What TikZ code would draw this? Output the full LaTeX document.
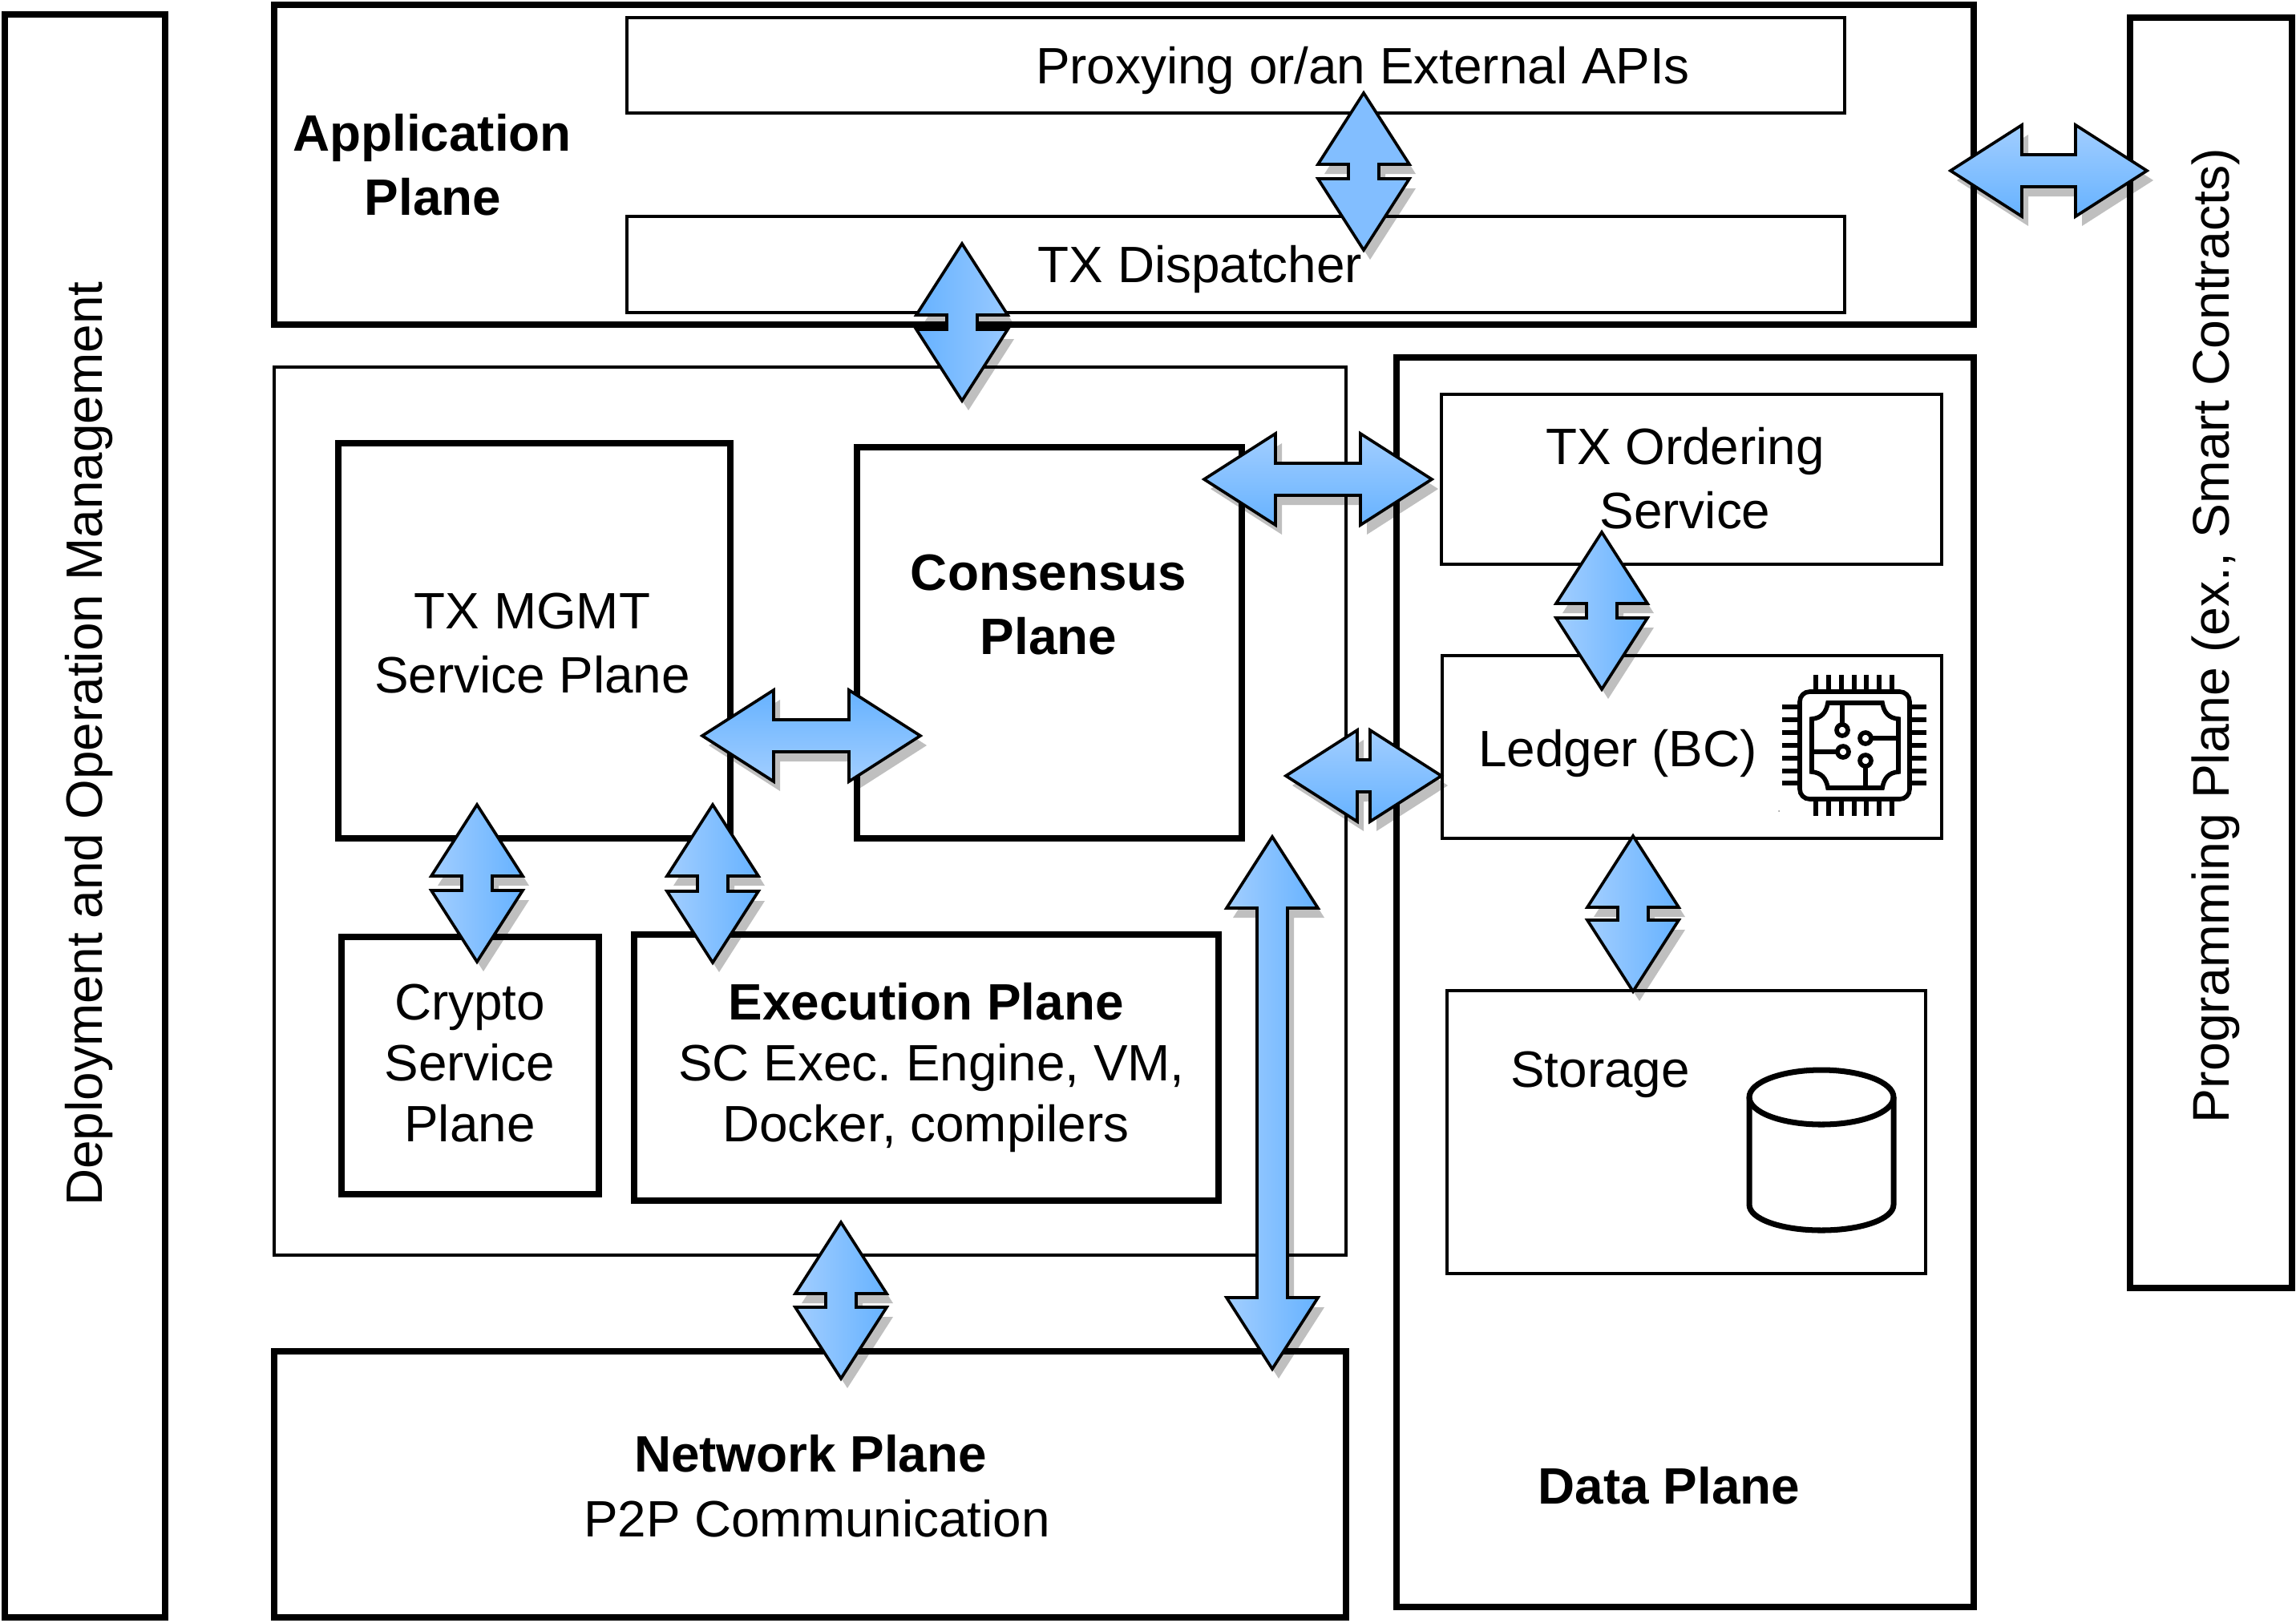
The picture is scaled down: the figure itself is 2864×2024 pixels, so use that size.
\documentclass[tikz,border=0pt]{standalone}
\usepackage{fontspec}
\setmainfont{Liberation Sans}
\frenchspacing
\definecolor{blLight}{HTML}{A2CEFF}
\definecolor{blMid}{HTML}{82BEFF}
\definecolor{blDark}{HTML}{66B2FF}
\tikzset{
  thinbox/.style={draw=black,line width=1pt,inner sep=0pt,outer sep=0pt,fill=white},
  thickbox/.style={draw=black,line width=2.15pt,inner sep=0pt,outer sep=0pt,fill=white},
  lab/.style={anchor=base,inner sep=0pt,outer sep=0pt,font=\fontsize{18.15}{22}\selectfont},
  blab/.style={lab,font=\fontsize{18.15}{22}\selectfont\bfseries},
  vlab/.style={lab,rotate=90,font=\fontsize{18.3}{22}\selectfont},
  arrowline/.style={draw=black,line width=1.05pt,line join=miter,miter limit=10},
  arrowshadow/.style={fill=black,opacity=.25},
  chipline/.style={draw=black,line width=1.6pt},
  cyl/.style={draw=black,line width=2pt}
}
% box: style, name, x1, y1, x2, y2 (reference pixels)
\newcommand{\planebox}[6]{%
  \node[#1,minimum width={(#5-#3)*0.01cm},minimum height={(#6-#4)*0.01cm}] (#2) at ({(#3+#5)/2},{(#4+#6)/2}) {};}
% horizontal block arrow: name, x left, x right, y, top colour, bottom colour
\newcommand{\blockH}[6]{%
  \coordinate (#1-a) at (#2,#4);\coordinate (#1-b) at (#3,#4);
  \def\blockpath{(#2,#4) -- (#2+89,#4-57) -- (#2+89,#4-20) -- (#3-89,#4-20) -- (#3-89,#4-57) -- (#3,#4) -- (#3-89,#4+57) -- (#3-89,#4+20) -- (#2+89,#4+20) -- (#2+89,#4+57) -- cycle}
  \path[arrowshadow,shift={(8,12)}] \blockpath;
  \path[arrowline,top color=#5,bottom color=#6] \blockpath;}
% vertical block arrow: name, x, y top, y bottom, left colour, right colour
\newcommand{\blockV}[6]{%
  \coordinate (#1-a) at (#2,#3);\coordinate (#1-b) at (#2,#4);
  \def\blockpath{(#2,#3) -- (#2+57,#3+89) -- (#2+19,#3+89) -- (#2+19,#4-89) -- (#2+57,#4-89) -- (#2,#4) -- (#2-57,#4-89) -- (#2-19,#4-89) -- (#2-19,#3+89) -- (#2-57,#3+89) -- cycle}
  \path[arrowshadow,shift={(8,12)}] \blockpath;
  \path[arrowline,left color=#5,right color=#6] \blockpath;}
\begin{document}
\begin{tikzpicture}[x=0.01cm,y=-0.01cm]
\path[use as bounding box,fill=white] (0,0) rectangle (2864,2024);
% planes
\planebox{thickbox}{deploy}{6}{18}{206}{2018}
\planebox{thickbox}{app}{342}{6}{2462}{405}
\planebox{thinbox}{proxy}{782}{22}{2301}{141}
\planebox{thinbox}{disp}{782}{270}{2301}{390}
\planebox{thickbox}{prog}{2657}{22}{2859}{1607}
\planebox{thinbox}{core}{342}{458}{1679}{1566}
\planebox{thickbox}{data}{1742}{446}{2462}{2005}
\planebox{thinbox}{order}{1798}{492}{2422}{704}
\planebox{thinbox}{ledger}{1799}{818}{2422}{1046}
\planebox{thinbox}{storage}{1805}{1236}{2402}{1589}
\planebox{thickbox}{mgmt}{422}{553}{911}{1046}
\planebox{thickbox}{consensus}{1069}{558}{1549}{1046}
\planebox{thickbox}{crypto}{426}{1169}{747}{1490}
\planebox{thickbox}{exec}{791}{1166}{1520}{1498}
\planebox{thickbox}{network}{342}{1686}{1679}{2018}
% labels
\node[vlab,font=\fontsize{18.15}{22}\selectfont] (tdeploy) at (127,928) {Deployment and Operation Management};
\node[vlab] (tprog) at (2780,793) {Programming Plane (ex., Smart Contracts)};
\node[lab] (tproxy) at (1700,104) {Proxying or/an External APIs};
\node[lab] (tdisp) at (1497,352) {TX Dispatcher};
\node[blab] (tapp1) at (539,188) {Application};
\node[blab] (tapp2) at (540,268) {Plane};
\node[lab] (tmgmt1) at (664,784) {TX MGMT};
\node[lab] (tmgmt2) at (664,864) {Service Plane};
\node[blab] (tcons1) at (1308,736) {Consensus};
\node[blab] (tcons2) at (1308,816) {Plane};
\node[lab] (tcry1) at (586,1272) {Crypto};
\node[lab] (tcry2) at (586,1348) {Service};
\node[lab] (tcry3) at (586,1424) {Plane};
\node[blab] (texe1) at (1155,1272) {Execution Plane};
\node[lab] (texe2) at (1162,1348) {SC Exec. Engine, VM,};
\node[lab] (texe3) at (1155,1424) {Docker, compilers};
\node[blab] (tnet1) at (1011,1836) {Network Plane};
\node[lab] (tnet2) at (1019,1917) {P2P Communication};
\node[blab] (tdata) at (2082,1876) {Data Plane};
\node[lab] (tord1) at (2102,579) {TX Ordering};
\node[lab] (tord2) at (2102,659) {Service};
\node[lab] (tled) at (2018,956) {Ledger (BC)};
\node[lab] (tsto) at (1996,1356) {Storage};
% chip icon
\draw[chipline,rounded corners=3.5pt] (2245,863) rectangle (2382,997);
\foreach \p in {2265,2281,2297,2313,2328,2344,2360}{
  \draw[chipline] (\p,842) -- (\p,863);
  \draw[chipline] (\p,997) -- (\p,1018);}
\foreach \p in {882,898,914,930,946,962,977}{
  \draw[chipline] (2223,\p) -- (2245,\p);
  \draw[chipline] (2382,\p) -- (2403,\p);}
\draw[chipline] (2280,877) -- (2348,877) .. controls (2350,889) and (2356,896) .. (2368,897)
  -- (2368,963) .. controls (2356,964) and (2350,971) .. (2348,983)
  -- (2280,983) .. controls (2278,971) and (2272,964) .. (2260,963)
  -- (2260,897) .. controls (2272,896) and (2278,889) .. (2280,877) -- cycle;
\draw[chipline] (2298,877) -- (2298,904);
\draw[chipline] (2298,911) circle[radius=7];
\draw[chipline] (2368,921) -- (2334,921);
\draw[chipline] (2327,921) circle[radius=7];
\draw[chipline] (2260,938) -- (2292,938);
\draw[chipline] (2299,938) circle[radius=7];
\draw[chipline] (2327,983) -- (2327,956);
\draw[chipline] (2327,949) circle[radius=7];
\fill[black!45] (2219,1012) circle[radius=1];
% database cylinder
\draw[cyl] (2182,1369) -- (2182,1503) .. controls (2182,1521) and (2222,1535) .. (2272,1535)
  .. controls (2322,1535) and (2362,1521) .. (2362,1503) -- (2362,1369);
\draw[cyl] (2272,1369) ellipse[x radius=90,y radius=34];
% block arrows
\blockV{proxydisp}{1701}{116}{312}{blMid}{blMid}
\blockV{dispcore}{1200}{304}{500}{blDark}{blLight!70!blMid}
\blockH{appprog}{2433}{2678}{213}{blLight}{blDark}
\blockH{consorder}{1502}{1786}{598}{blLight}{blDark}
\blockH{mgmtcons}{876}{1148}{918}{blDark}{blLight}
\blockH{coreledger}{1604}{1798}{968}{blLight}{blDark}
\blockV{orderledger}{1998}{664}{860}{blLight}{blDark}
\blockV{ledgerstore}{2037}{1043}{1237}{blLight}{blDark}
\blockV{mgmtcrypto}{595}{1004}{1200}{blLight}{blDark}
\blockV{mgmtexec}{889}{1004}{1201}{blLight}{blDark}
\blockV{corenet}{1049}{1525}{1720}{blLight}{blDark}
\blockV{consnet}{1587}{1044}{1708}{blLight}{blDark}
\end{tikzpicture}
\end{document}
